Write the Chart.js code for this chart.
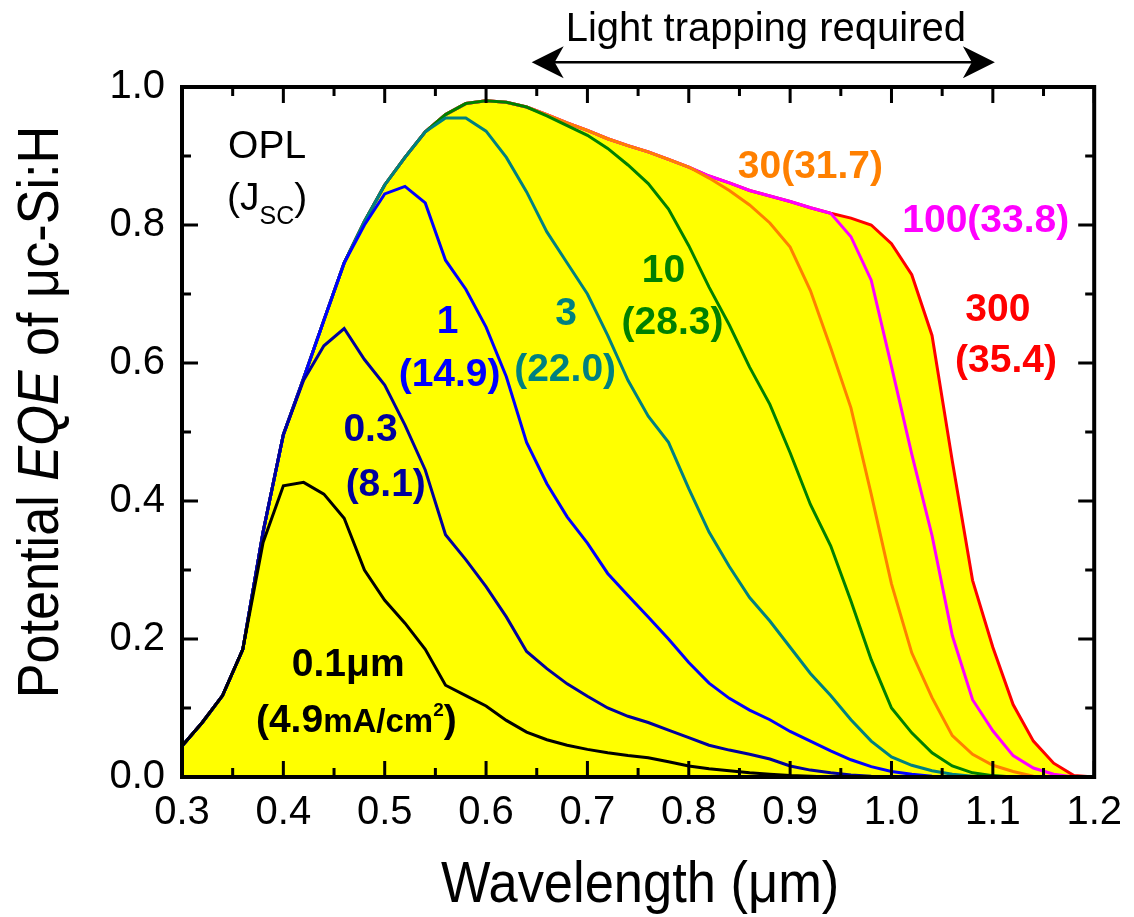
<!DOCTYPE html>
<html>
<head>
<meta charset="utf-8">
<title>Potential EQE of μc-Si:H</title>
<script src="https://cdn.jsdelivr.net/npm/chart.js@4.4.1/dist/chart.umd.min.js"></script>
<style>
  html, body { margin: 0; padding: 0; background: #fff; }
  #chartBox { width: 1134px; height: 917px; }
</style>
</head>
<body>
<div id="chartBox"><canvas id="eqeChart" width="1134" height="917"></canvas></div>
<script>
// wavelength grid (um)
const wavelength = [
  0.30, 0.32, 0.34, 0.36, 0.38, 0.40, 0.42, 0.44, 0.46, 0.48,
  0.50, 0.52, 0.54, 0.56, 0.58, 0.60, 0.62, 0.64, 0.66, 0.68,
  0.70, 0.72, 0.74, 0.76, 0.78, 0.80, 0.82, 0.84, 0.86, 0.88,
  0.90, 0.92, 0.94, 0.96, 0.98, 1.00, 1.02, 1.04, 1.06, 1.08,
  1.10, 1.12, 1.14, 1.16, 1.18, 1.20
];

// potential EQE for each optical path length (um)
const eqe01 = [
  0.045, 0.079, 0.118, 0.185, 0.340, 0.422, 0.427, 0.410, 0.375, 0.300,
  0.256, 0.223, 0.185, 0.133, 0.118, 0.103, 0.082, 0.065, 0.054, 0.046,
  0.040, 0.035, 0.031, 0.028, 0.022, 0.016, 0.012, 0.009, 0.006, 0.004,
  0.002, 0.001, 0.000, 0.000, 0.000, 0.000, 0.000, 0.000, 0.000, 0.000,
  0.000, 0.000, 0.000, 0.000, 0.000, 0.000
];
const eqe03 = [
  0.045, 0.079, 0.118, 0.185, 0.355, 0.496, 0.575, 0.625, 0.650, 0.605,
  0.568, 0.510, 0.445, 0.351, 0.315, 0.276, 0.232, 0.182, 0.157, 0.135,
  0.117, 0.100, 0.088, 0.079, 0.068, 0.057, 0.046, 0.039, 0.033, 0.026,
  0.016, 0.010, 0.006, 0.003, 0.001, 0.000, 0.000, 0.000, 0.000, 0.000,
  0.000, 0.000, 0.000, 0.000, 0.000, 0.000
];
const eqe1 = [
  0.045, 0.079, 0.118, 0.185, 0.355, 0.496, 0.578, 0.662, 0.745, 0.800,
  0.845, 0.856, 0.832, 0.749, 0.707, 0.652, 0.580, 0.485, 0.425, 0.377,
  0.339, 0.295, 0.263, 0.232, 0.200, 0.166, 0.136, 0.114, 0.097, 0.083,
  0.066, 0.052, 0.038, 0.025, 0.015, 0.008, 0.004, 0.001, 0.000, 0.000,
  0.000, 0.000, 0.000, 0.000, 0.000, 0.000
];
const eqe3 = [
  0.045, 0.079, 0.118, 0.185, 0.355, 0.496, 0.578, 0.662, 0.745, 0.805,
  0.858, 0.898, 0.935, 0.955, 0.955, 0.936, 0.898, 0.848, 0.790, 0.745,
  0.700, 0.640, 0.575, 0.523, 0.485, 0.418, 0.355, 0.305, 0.260, 0.226,
  0.188, 0.150, 0.118, 0.083, 0.052, 0.029, 0.017, 0.009, 0.004, 0.001,
  0.000, 0.000, 0.000, 0.000, 0.000, 0.000
];
const eqe10 = [
  0.045, 0.079, 0.118, 0.185, 0.355, 0.496, 0.578, 0.662, 0.745, 0.805,
  0.858, 0.898, 0.935, 0.960, 0.976, 0.980, 0.978, 0.971, 0.958, 0.944,
  0.930, 0.911, 0.887, 0.860, 0.823, 0.770, 0.710, 0.655, 0.594, 0.540,
  0.470, 0.395, 0.335, 0.255, 0.170, 0.100, 0.064, 0.035, 0.016, 0.006,
  0.002, 0.000, 0.000, 0.000, 0.000, 0.000
];
const eqe30 = [
  0.045, 0.079, 0.118, 0.185, 0.355, 0.496, 0.578, 0.662, 0.745, 0.805,
  0.858, 0.898, 0.935, 0.960, 0.976, 0.980, 0.978, 0.971, 0.960, 0.948,
  0.937, 0.925, 0.915, 0.906, 0.895, 0.884, 0.868, 0.850, 0.829, 0.803,
  0.768, 0.705, 0.622, 0.535, 0.410, 0.280, 0.180, 0.115, 0.060, 0.033,
  0.017, 0.008, 0.001, 0.000, 0.000, 0.000
];
const eqe100 = [
  0.045, 0.079, 0.118, 0.185, 0.355, 0.496, 0.578, 0.662, 0.745, 0.805,
  0.858, 0.898, 0.935, 0.960, 0.976, 0.980, 0.978, 0.971, 0.960, 0.948,
  0.937, 0.925, 0.915, 0.906, 0.895, 0.884, 0.871, 0.861, 0.850, 0.842,
  0.834, 0.825, 0.817, 0.783, 0.720, 0.595, 0.468, 0.350, 0.205, 0.112,
  0.067, 0.031, 0.013, 0.004, 0.000, 0.000
];
const eqe300 = [
  0.045, 0.079, 0.118, 0.185, 0.355, 0.496, 0.578, 0.662, 0.745, 0.805,
  0.858, 0.898, 0.935, 0.960, 0.976, 0.980, 0.978, 0.971, 0.960, 0.948,
  0.937, 0.925, 0.915, 0.906, 0.895, 0.884, 0.871, 0.861, 0.850, 0.842,
  0.834, 0.825, 0.817, 0.810, 0.800, 0.773, 0.728, 0.640, 0.458, 0.285,
  0.188, 0.105, 0.052, 0.020, 0.002, 0.000
];

const pathLengths = ['0.1', '0.3', '1', '3', '10', '30', '100', '300'];
const seriesValues = [eqe01, eqe03, eqe1, eqe3, eqe10, eqe30, eqe100, eqe300];
const lineColors = ['#000000', '#00009c', '#0000ff', '#008080', '#008000', '#ff8000', '#ff00ff', '#ff0000'];

const xTicks = [0.3, 0.4, 0.5, 0.6, 0.7, 0.8, 0.9, 1.0, 1.1, 1.2];
const yTicks = [0.0, 0.2, 0.4, 0.6, 0.8, 1.0];

const FONT = '"Liberation Sans", Arial, Helvetica, sans-serif';

// text notes, placed at (wavelength, EQE) of their centre
const notes = [
  { x: 0.384, y: 0.917, color: '#000', runs: [{ t: 'OPL', size: 39 }] },
  { x: 0.384, y: 0.842, color: '#000', runs: [{ t: '(J', size: 39 }, { t: 'SC', size: 25, dy: 14 }, { t: ')', size: 39 }] },
  { x: 0.486, y: 0.507, color: '#00009c', runs: [{ t: '0.3', size: 39, bold: true }] },
  { x: 0.501, y: 0.428, color: '#00009c', runs: [{ t: '(8.1)', size: 39, bold: true }] },
  { x: 0.562, y: 0.664, color: '#0000ff', runs: [{ t: '1', size: 39, bold: true }] },
  { x: 0.564, y: 0.587, color: '#0000ff', runs: [{ t: '(14.9)', size: 39, bold: true }] },
  { x: 0.679, y: 0.675, color: '#008080', runs: [{ t: '3', size: 39, bold: true }] },
  { x: 0.678, y: 0.594, color: '#008080', runs: [{ t: '(22.0)', size: 39, bold: true }] },
  { x: 0.775, y: 0.738, color: '#008000', runs: [{ t: '10', size: 39, bold: true }] },
  { x: 0.784, y: 0.662, color: '#008000', runs: [{ t: '(28.3)', size: 39, bold: true }] },
  { x: 0.920, y: 0.888, color: '#ff8000', runs: [{ t: '30(31.7)', size: 39, bold: true }] },
  { x: 1.093, y: 0.810, color: '#ff00ff', runs: [{ t: '100(33.8)', size: 39, bold: true }] },
  { x: 1.105, y: 0.681, color: '#ff0000', runs: [{ t: '300', size: 39, bold: true }] },
  { x: 1.113, y: 0.607, color: '#ff0000', runs: [{ t: '(35.4)', size: 39, bold: true }] },
  { x: 0.464, y: 0.167, color: '#000', runs: [{ t: '0.1μm', size: 39, bold: true }] },
  { x: 0.472, y: 0.086, color: '#000', runs: [
    { t: '(4.9', size: 39, bold: true }, { t: 'mA/cm', size: 33, bold: true },
    { t: '2', size: 19, bold: true, dy: -16 }, { t: ')', size: 39, bold: true }] }
];

function fontOf(r) {
  return (r.italic ? 'italic ' : '') + (r.bold ? 'bold ' : '') + r.size + 'px ' + FONT;
}

// draws runs of mixed fonts centred on x, with the given baseline
function drawRuns(ctx, runs, x, baseline) {
  let total = 0;
  runs.forEach(r => {
    ctx.font = fontOf(r);
    r.w = ctx.measureText(r.t).width;
    total += r.w;
  });
  let cx = x - total / 2;
  ctx.textAlign = 'left';
  ctx.textBaseline = 'alphabetic';
  runs.forEach(r => {
    ctx.font = fontOf(r);
    ctx.fillText(r.t, cx, baseline + (r.dy || 0));
    cx += r.w;
  });
}

function arrowHead(ctx, tipX, y, dir) {
  ctx.beginPath();
  ctx.moveTo(tipX, y);
  ctx.lineTo(tipX + dir * 32, y - 16);
  ctx.lineTo(tipX + dir * 23, y);
  ctx.lineTo(tipX + dir * 32, y + 16);
  ctx.closePath();
  ctx.fill();
}

const decorations = {
  id: 'decorations',
  afterDraw(chart) {
    const ctx = chart.ctx;
    const area = chart.chartArea;
    const xs = chart.scales.x;
    const ys = chart.scales.y;
    ctx.save();

    // inward ticks on all four sides
    ctx.strokeStyle = '#000';
    ctx.lineWidth = 3;
    ctx.beginPath();
    for (let i = 0; i <= 18; i++) {
      const px = xs.getPixelForValue(0.3 + i * 0.05);
      const len = i % 2 === 0 ? 16 : 9;
      ctx.moveTo(px, area.bottom); ctx.lineTo(px, area.bottom - len);
      ctx.moveTo(px, area.top); ctx.lineTo(px, area.top + len);
    }
    for (let i = 0; i <= 10; i++) {
      const py = ys.getPixelForValue(i * 0.1);
      const len = i % 2 === 0 ? 16 : 9;
      ctx.moveTo(area.left, py); ctx.lineTo(area.left + len, py);
      ctx.moveTo(area.right, py); ctx.lineTo(area.right - len, py);
    }
    ctx.stroke();

    // frame
    ctx.lineWidth = 4;
    ctx.strokeRect(area.left, area.top, area.right - area.left, area.bottom - area.top);

    // notes
    notes.forEach(n => {
      ctx.fillStyle = n.color;
      const px = xs.getPixelForValue(n.x);
      const py = ys.getPixelForValue(n.y);
      drawRuns(ctx, n.runs, px, py + 0.36 * n.runs[0].size);
    });

    // light trapping arrow
    ctx.fillStyle = '#000';
    const ay = ys.getPixelForValue(1.036);
    const ax0 = xs.getPixelForValue(0.645);
    const ax1 = xs.getPixelForValue(1.102);
    ctx.lineWidth = 2.5;
    ctx.beginPath();
    ctx.moveTo(ax0 + 20, ay);
    ctx.lineTo(ax1 - 20, ay);
    ctx.stroke();
    arrowHead(ctx, ax0, ay, 1);
    arrowHead(ctx, ax1, ay, -1);
    drawRuns(ctx, [{ t: 'Light trapping required', size: 40 }], xs.getPixelForValue(0.876), ys.getPixelForValue(1.067));

    // axis titles (slightly condensed, as in the original)
    ctx.save();
    ctx.translate((area.left + area.right) / 2 + 2, 902);
    ctx.scale(0.92, 1);
    drawRuns(ctx, [{ t: 'Wavelength (μm)', size: 57 }], 0, 0);
    ctx.restore();

    ctx.save();
    ctx.translate(58, 412);
    ctx.rotate(-Math.PI / 2);
    ctx.scale(0.9, 1);
    drawRuns(ctx, [
      { t: 'Potential ', size: 58 },
      { t: 'EQE', size: 58, italic: true },
      { t: ' of μc-Si:H', size: 58 }
    ], 0, 0);
    ctx.restore();

    ctx.restore();
  }
};

const datasets = pathLengths.map((name, i) => ({
  label: name,
  data: wavelength.map((w, k) => ({ x: w, y: seriesValues[i][k] })),
  borderColor: lineColors[i],
  borderWidth: 3,
  pointRadius: 0,
  tension: 0,
  fill: name === '300' ? 'origin' : false,
  backgroundColor: name === '300' ? '#ffff00' : 'transparent'
}));

new Chart(document.getElementById('eqeChart'), {
  type: 'line',
  data: { datasets: datasets },
  options: {
    responsive: false,
    devicePixelRatio: 1,
    animation: false,
    layout: { padding: { top: 87, right: 34, left: 0, bottom: 0 } },
    plugins: {
      legend: { display: false },
      tooltip: { enabled: false },
      filler: { drawTime: 'beforeDatasetsDraw' }
    },
    scales: {
      x: {
        type: 'linear',
        min: 0.3,
        max: 1.2,
        afterFit(scale) { scale.height = 140; },
        afterBuildTicks(scale) { scale.ticks = xTicks.map(v => ({ value: v })); },
        grid: { display: false, drawTicks: false },
        border: { display: false },
        ticks: {
          padding: 12,
          color: '#000',
          font: { family: FONT, size: 40 },
          callback: v => v.toFixed(1)
        }
      },
      y: {
        type: 'linear',
        min: 0,
        max: 1,
        afterFit(scale) { scale.width = 182; },
        afterBuildTicks(scale) { scale.ticks = yTicks.map(v => ({ value: v })); },
        grid: { display: false, drawTicks: false },
        border: { display: false },
        ticks: {
          padding: 17,
          color: '#000',
          font: { family: FONT, size: 40 },
          callback: v => v.toFixed(1)
        }
      }
    }
  },
  plugins: [decorations]
});
</script>
</body>
</html>
